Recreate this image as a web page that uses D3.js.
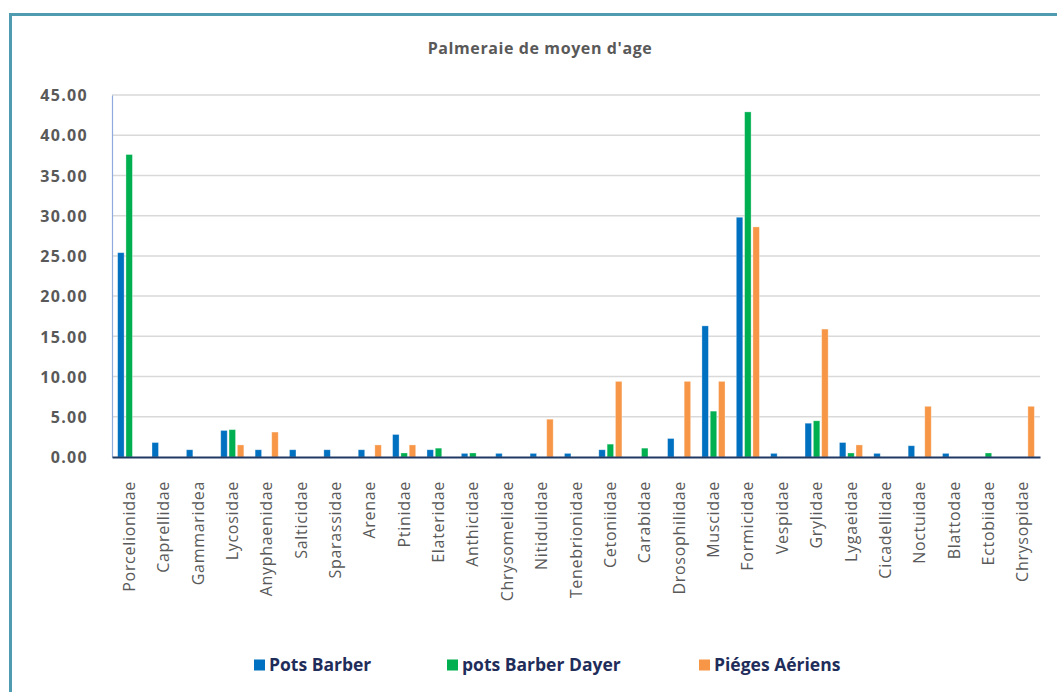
<!DOCTYPE html>
<html><head><meta charset="utf-8">
<script src="https://cdn.jsdelivr.net/npm/d3@7"></script>
<style>body{margin:0;background:#fff;} svg{display:block;}</style>
</head><body>
<svg id="c" width="1057" height="692"></svg>
<script>
const categories = ["Porcelionidae","Caprellidae","Gammaridea","Lycosidae","Anyphaenidae","Salticidae","Sparassidae","Arenae","Ptinidae","Elateridae","Anthicidae","Chrysomelidae","Nitidulidae","Tenebrionidae","Cetoniidae","Carabidae","Drosophilidae","Muscidae","Formicidae","Vespidae","Grylidae","Lygaeidae","Cicadellidae","Noctuidae","Blattodae","Ectobiidae","Chrysopidae"];
const seriesNames = ["Pots Barber","pots Barber Dayer","Piéges Aériens"];
const potsBarber = [25.4,1.8,0.9,3.3,0.9,0.9,0.9,0.9,2.8,0.9,0.45,0.45,0.45,0.45,0.9,0,2.3,16.3,29.8,0.45,4.2,1.8,0.45,1.4,0.45,0,0];
const potsBarberDayer = [37.6,0,0,3.4,0,0,0,0,0.5,1.1,0.5,0,0,0,1.6,1.1,0,5.7,42.9,0,4.5,0.5,0,0,0,0.5,0];
const piegesAeriens = [0,0,0,1.5,3.1,0,0,1.5,1.5,0,0,0,4.7,0,9.4,0,9.4,9.4,28.6,0,15.9,1.5,0,6.3,0,0,6.3];
const yTicks = [0,5,10,15,20,25,30,35,40,45];
const title = "Palmeraie de moyen d'age";

const colors = ["#0070c0","#00b050","#f79646"];
const seriesValues = [potsBarber, potsBarberDayer, piegesAeriens];

const svg = d3.select("#c");
// frame
svg.append("rect").attr("x",10.5).attr("y",14.5).attr("width",1100).attr("height",700)
  .attr("fill","none").attr("stroke","#4f9bb0").attr("stroke-width",3);

const x0 = 112, x1 = 1040, yTop = 95, yBot = 457;
const x = d3.scaleBand().domain(categories).range([x0,x1]).padding(0);
const xs = d3.scaleBand().domain(seriesNames).range([-11.55,11.55]).paddingInner(0.22);
const y = d3.scaleLinear().domain([0,45]).range([yBot,yTop]);

svg.append("text").attr("x",540).attr("y",54).attr("text-anchor","middle")
  .attr("font-family","Open Sans").attr("font-weight","bold").attr("font-size",16)
  .attr("letter-spacing","0.6px")
  .attr("fill","#595959").text(title);

// gridlines
svg.append("g").selectAll("line").data(yTicks.filter(d=>d>0)).join("line")
  .attr("x1",x0).attr("x2",x1).attr("y1",d=>y(d)).attr("y2",d=>y(d))
  .attr("stroke","#d9d9d9").attr("stroke-width",1.5);

// y axis
const yAxis = svg.append("g").attr("transform",`translate(${x0},0)`)
  .call(d3.axisLeft(y).tickValues(yTicks).tickFormat(d3.format(".2f")).tickSize(0).tickPadding(24));
yAxis.select(".domain").attr("stroke","#8faadc").attr("stroke-width",1.2);
yAxis.selectAll("text").attr("font-family","Open Sans").attr("font-weight","bold")
  .attr("font-size",16).attr("letter-spacing","1.3px").attr("fill","#595959").attr("dy","0.36em");

// bars
seriesNames.forEach((s,si)=>{
  svg.append("g").selectAll("rect").data(categories.map((c,i)=>({c,v:seriesValues[si][i]})).filter(d=>d.v>0))
    .join("rect")
    .attr("x",d=>x(d.c)+x.bandwidth()/2+xs(s))
    .attr("width",xs.bandwidth())
    .attr("y",d=>y(d.v)).attr("height",d=>yBot-y(d.v))
    .attr("fill",colors[si]).attr("stroke","#ffffff").attr("stroke-opacity",0.4).attr("stroke-width",0.8);
});

// x axis
const xAxis = svg.append("g").attr("transform",`translate(0,${yBot})`)
  .call(d3.axisBottom(x).tickSize(0).tickPadding(0));
xAxis.select(".domain").attr("stroke","#1f3864").attr("stroke-width",2);
xAxis.selectAll("text").attr("font-family","Open Sans").attr("font-size",16)
  .attr("letter-spacing","0.7px")
  .attr("fill","#595959")
  .attr("transform","rotate(-90)").attr("text-anchor","end")
  .attr("x",-24).attr("y",0).attr("dy","0.35em");

// legend
const legendX = [254,447,699];
const lg = svg.append("g").selectAll("g").data(seriesNames).join("g")
  .attr("transform",(d,i)=>`translate(${legendX[i]},665)`);
lg.append("rect").attr("x",0).attr("y",-5.5).attr("width",11).attr("height",11).attr("fill",(d,i)=>colors[i]);
lg.append("text").attr("x",15).attr("y",0).attr("dy","0.36em")
  .attr("font-family","Open Sans").attr("font-weight","bold").attr("font-size",17.5)
  .attr("fill","#1f2d5a").text(d=>d);
</script>
</body></html>
